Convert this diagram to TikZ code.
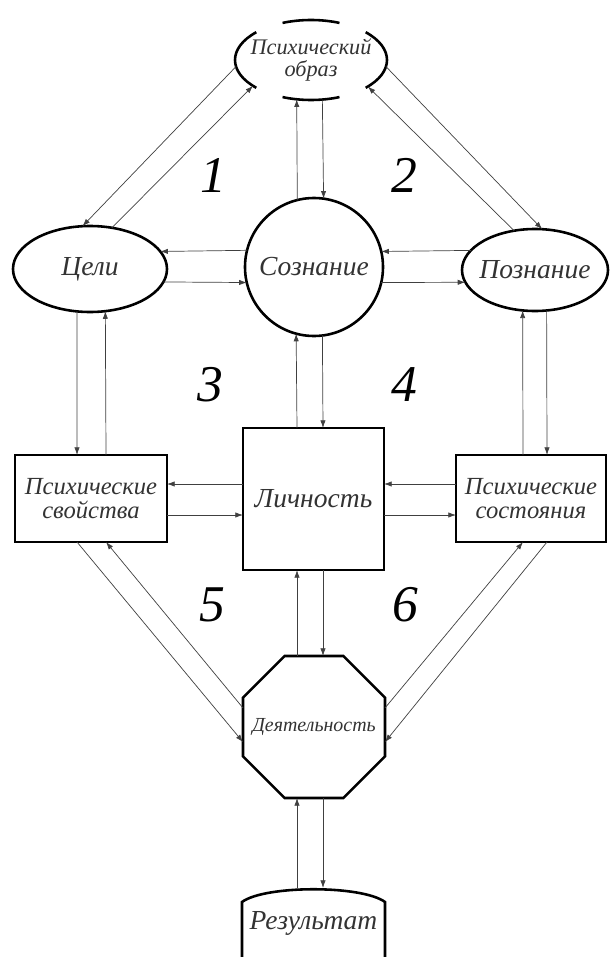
\documentclass[tikz,border=0pt]{standalone}
\usepackage{fontspec}
\setmainfont{Liberation Serif}
\usetikzlibrary{arrows.meta,calc,shapes.geometric}
\tikzset{
  rand/.style={draw, line width=2.2pt, inner sep=0pt, outer sep=0pt, align=center,
    font=\fontsize{21}{22}\selectfont\itshape, text=black!80},
  gross/.style={font=\fontsize{23.5}{24}\selectfont\itshape},
  oval/.style={rand, ellipse},
  kasten/.style={rand, rectangle},
  pfeil/.style={-{Latex[length=6.5pt,width=4.5pt]}, line width=0.6pt, draw=black!75},
  zahl/.style={font=\fontsize{44}{44}\selectfont\itshape}
}
\begin{document}
\begin{tikzpicture}[x=0.03cm,y=-0.03cm]
\useasboundingbox (0,0) rectangle (610,957);
% Spalten und Zeilen
\coordinate (cL) at (297,0); \coordinate (cR) at (323,0);
\coordinate (sL) at (77,0);  \coordinate (sR) at (106,0);
\coordinate (zL) at (523,0); \coordinate (zR) at (547,0);
\coordinate (rA) at (0,484); \coordinate (rB) at (0,515);
% Knoten
\node[oval, draw=none, minimum width=4.56cm, minimum height=2.4cm, font=\fontsize{19}{20}\selectfont\itshape] (obr) at (311,60)
  {\makebox[0pt]{Психический}\\[-1pt]\makebox[0pt]{образ}};
\draw[line width=2.2pt] (obr.center) ++(248:76 and 40) arc[start angle=248, end angle=292, x radius=76, y radius=40];
\draw[line width=2.2pt] (obr.center) ++(68:76 and 40) arc[start angle=68, end angle=112, x radius=76, y radius=40];
\draw[line width=2.2pt] (obr.center) ++(136:76 and 40) arc[start angle=136, end angle=224, x radius=76, y radius=40];
\draw[line width=2.2pt] (obr.center) ++(-44:76 and 40) arc[start angle=-44, end angle=44, x radius=76, y radius=40];
\node[oval, gross, minimum width=4.62cm, minimum height=2.58cm] (cel) at (90,269) {Цели};
\node[rand, circle, gross, minimum size=4.14cm] (soz) at (314,267) {\makebox[0pt]{Сознание}};
\node[oval, gross, minimum width=4.38cm, minimum height=2.46cm] (poz) at (535,270) {\makebox[0pt]{Познание}};
\node[kasten, minimum width=4.56cm, minimum height=2.61cm] (svo) at (91,498.5) {Психические\\[-2pt]свойства};
\node[kasten, gross, minimum width=4.23cm, minimum height=4.26cm] (lic) at (313.5,499) {Личность};
\node[kasten, minimum width=4.5cm, minimum height=2.61cm] (sos) at (531,498.5) {Психические\\[-2pt]состояния};
\node[rand, regular polygon, regular polygon sides=8, minimum size=4.61cm, font=\fontsize{17}{18}\selectfont\itshape] (dey) at (314,727)
  {\makebox[0pt]{Деятельность}};
\node[rand, gross, draw=none, minimum width=4.29cm, minimum height=2.1cm] (rez) at (313.5,923) {Результат};
\draw[line width=2.2pt] (rez.south west) -- ($(rez.north west)+(0,14)$)
  .. controls ($(rez.north west)+(23,-3)$) and ($(rez.north east)+(-23,-3)$) .. ($(rez.north east)+(0,14)$) -- (rez.south east);
% Zahlen
\node[zahl] (n1) at (213,175) {1};
\node[zahl] (n2) at (404,175) {2};
\node[zahl] (n3) at (210,385) {3};
\node[zahl] (n4) at (404,385) {4};
\node[zahl] (n5) at (212,605) {5};
\node[zahl] (n6) at (405,605) {6};
% Pfeile oben
\draw[pfeil] (obr.185) -- (cel.100);
\draw[pfeil] (cel.62) -- (obr.204.4);
\draw[pfeil] (obr.-5) -- (poz.80);
\draw[pfeil] (poz.118) -- (obr.335.6);
\draw[pfeil] (soz.104.3) -- (obr.250.4);
\draw[pfeil] (obr.286.9) -- (soz.82.5);
% waagerecht
\draw[pfeil] (soz.166.6) -- (cel.14.43);
\draw[pfeil] (cel.-10.89) -- (soz.193.4);
\draw[pfeil] (poz.163.6) -- (soz.13.4);
\draw[pfeil] (soz.-13.4) -- (poz.190.6);
\draw[pfeil] (lic.west |- rA) -- (svo.east |- rA);
\draw[pfeil] (svo.east |- rB) -- (lic.west |- rB);
\draw[pfeil] (sos.west |- rA) -- (lic.east |- rA);
\draw[pfeil] (lic.east |- rB) -- (sos.west |- rB);
% senkrecht
\draw[pfeil] (cel.253) -- (svo.north -| sL);
\draw[pfeil] (svo.north -| sR) -- (cel.290.8);
\draw[pfeil] (sos.north -| zL) -- (poz.253.5);
\draw[pfeil] (poz.286.5) -- (sos.north -| zR);
\draw[pfeil] (lic.north -| cL) -- (soz.255.7);
\draw[pfeil] (soz.277.5) -- (lic.north -| cR);
\draw[pfeil] (dey.north -| cL) -- (lic.south -| cL);
\draw[pfeil] (lic.south -| cR) -- (dey.north -| cR);
\draw[pfeil] (rez.north -| cL) -- (dey.south -| cL);
\draw[pfeil] (dey.south -| cR) -- (rez.north -| cR);
% unten schraeg
\draw[pfeil] (svo.south -| sL) -- (dey.192.7);
\draw[pfeil] (dey.165) -- (svo.south -| sR);
\draw[pfeil] (sos.south -| zR) -- (dey.-12.7);
\draw[pfeil] (dey.15) -- (sos.south -| zL);
\end{tikzpicture}
\end{document}
